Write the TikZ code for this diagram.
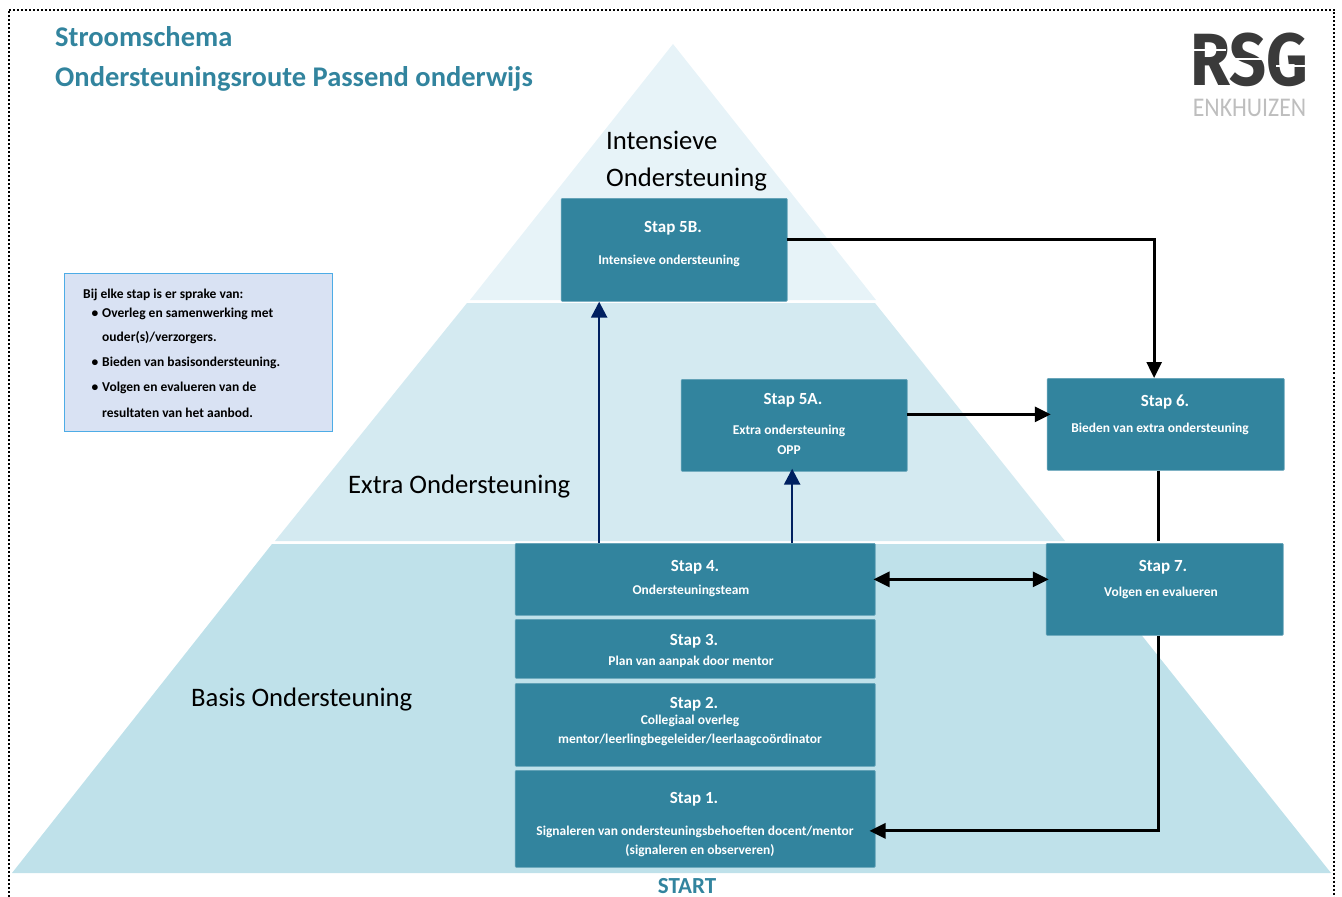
\documentclass[tikz,border=0pt]{standalone}
\usepackage{fontspec}
\setmainfont{Carlito}
\newfontfamily\logoFont{Fira Sans}
\usepackage{tikz}
\usetikzlibrary{positioning,arrows.meta}
\tikzstyle{schema} = [x = 1pt, y = -1pt]
\definecolor{stapColor}{RGB}{50,132,158}
\definecolor{stapEdgeColor}{RGB}{96,160,182}
\definecolor{topTierColor}{RGB}{231,243,248}
\definecolor{midTierColor}{RGB}{212,234,241}
\definecolor{baseTierColor}{RGB}{191,225,234}
\definecolor{legendColor}{RGB}{217,226,243}
\definecolor{legendEdgeColor}{RGB}{77,172,230}
\definecolor{navyColor}{RGB}{0,32,96}
\definecolor{logoColor}{RGB}{58,58,58}
\definecolor{logoLightColor}{RGB}{190,190,190}
\tikzstyle{stapBoxStyle} = [draw=stapEdgeColor, fill=stapColor, line width=.7pt, rounded corners=1pt, anchor=north west, inner sep=0pt]
\tikzstyle{stapTitleStyle} = [text=white, font=\fontsize{17}{17}\selectfont\bfseries, inner sep=0pt, yshift=-1.5pt]
\tikzstyle{stapTextStyle} = [text=white, font=\fontsize{13.45}{13.45}\selectfont\bfseries, inner sep=0pt, yshift=-1pt]
\tikzstyle{tierText} = [font=\fontsize{26.7}{26.7}\selectfont, anchor=west, inner sep=0pt, yshift=-2pt]
\tikzstyle{headText} = [text=stapColor, font=\fontsize{28.5}{28.5}\selectfont\bfseries, anchor=west, inner sep=0pt]
\tikzstyle{legendText} = [font=\fontsize{13.5}{13.5}\selectfont\bfseries, anchor=west, inner sep=0pt, yshift=-1pt]
\tikzstyle{blackArrow} = [draw=black, line width=2.8pt, -{Triangle[length=16pt,width=15pt]}]
\tikzstyle{navyArrow} = [draw=navyColor, line width=2.6pt, -{Triangle[length=16pt,width=16pt]}]
\tikzstyle{blackLine} = [draw=black, line width=2.8pt]
\newcommand{\stapBox}[5]{\node [stapBoxStyle, minimum width=#4-#2, minimum height=#5-#3] (#1) at (#2-.2,#3) {};}
\newcommand{\stapTitle}[4]{\node [stapTitleStyle] (#1) at (#2,#3) {#4};}
\newcommand{\stapText}[4]{\node [stapTextStyle] (#1) at (#2,#3) {#4};}
\newcommand{\legendLine}[3]{\node [legendText] (#1) at (102,#2) {#3};}
\newcommand{\legendBullet}[2]{\node [legendText, anchor=center] (#1) at (95,#2) {\textbullet};}
\begin{document}
\begin{tikzpicture}[schema]
  \useasboundingbox (0,0) rectangle (1342,897);
  \draw [line width=2pt, dash pattern=on 2pt off 2pt] (8.5,897) -- (8.5,9.5) -- (1334,9.5) -- (1334,897);

  % pyramid
  \fill [topTierColor] (673,44) -- (876,300) -- (470,300) -- cycle;
  \fill [midTierColor] (875,303) -- (1065,541) -- (275,541) -- (467,303) -- cycle;
  \fill [baseTierColor] (1069,544) -- (1331,873) -- (12,873) -- (272,544) -- cycle;

  % header
  \node [headText] (headOne) at (55,37) {Stroomschema};
  \node [headText, yshift=-2pt] (headTwo) at (55,77) {Ondersteuningsroute Passend onderwijs};
  \node [tierText] (tierTopOne) at (606,138) {Intensieve};
  \node [tierText] (tierTopTwo) at (606,178) {Ondersteuning};
  \node [tierText] (tierMid) at (348,485) {Extra Ondersteuning};
  \node [tierText] (tierBase) at (191,698) {Basis Ondersteuning};
  \node [text=stapColor, font=\fontsize{23}{23}\selectfont\bfseries, inner sep=0pt] (startText) at (687,886) {START};

  % logo
  \node [text=logoColor, font=\logoFont\fontsize{74}{74}\selectfont\bfseries, inner sep=0pt, xscale=.875] (logoText) at (1249.5,60) {RSG};
  \draw [white, line width=1.5pt] (1193,50) -- (1226,50) (1233,59) -- (1268,59) (1276,66) -- (1306,66);
  \node [text=logoLightColor, font=\fontsize{27}{27}\selectfont, inner sep=0pt, xscale=.88] (logoName) at (1249.5,107.5) {ENKHUIZEN};

  % legend
  \node [draw=legendEdgeColor, fill=legendColor, line width=1.4pt, anchor=north west, inner sep=0pt, minimum width=268pt, minimum height=158pt] (legendBox) at (63.5,273) {};
  \node [legendText] (legendHead) at (83,294) {Bij elke stap is er sprake van:};
  \legendBullet{bulletOne}{313}
  \legendLine{legendOne}{313}{Overleg en samenwerking met}
  \legendLine{legendTwo}{337}{ouder(s)/verzorgers.}
  \legendBullet{bulletTwo}{362}
  \legendLine{legendThree}{362}{Bieden van basisondersteuning.}
  \legendBullet{bulletThree}{387}
  \legendLine{legendFour}{387}{Volgen en evalueren van de}
  \legendLine{legendFive}{412}{resultaten van het aanbod.}

  % steps
  \stapBox{stapFiveB}{561}{198}{787}{301}
  \stapBox{stapFiveA}{681}{379}{907}{471}
  \stapBox{stapSix}{1047}{378}{1284}{470}
  \stapBox{stapSeven}{1046}{543}{1283}{635}
  \stapBox{stapFour}{515}{543}{875}{615}
  \stapBox{stapThree}{515}{619}{875}{678}
  \stapBox{stapTwo}{515}{683}{875}{766}
  \stapBox{stapOne}{515}{770}{875}{867}

  \stapTitle{titleFiveB}{673}{227}{Stap 5B.}
  \stapText{textFiveB}{669}{260}{Intensieve ondersteuning}
  \stapTitle{titleFiveA}{793}{399}{Stap 5A.}
  \stapText{textFiveA}{789}{430}{Extra ondersteuning}
  \stapText{textFiveAb}{789}{449}{OPP}
  \stapTitle{titleSix}{1165}{401}{Stap 6.}
  \stapText{textSix}{1160}{428}{Bieden van extra ondersteuning}
  \stapTitle{titleSeven}{1163}{566}{Stap 7.}
  \stapText{textSeven}{1161}{592}{Volgen en evalueren}
  \stapTitle{titleFour}{695}{566}{Stap 4.}
  \stapText{textFour}{691}{590}{Ondersteuningsteam}
  \stapTitle{titleThree}{694}{640}{Stap 3.}
  \stapText{textThree}{691}{661}{Plan van aanpak door mentor}
  \stapTitle{titleTwo}{694}{703}{Stap 2.}
  \stapText{textTwo}{690}{720}{Collegiaal overleg}
  \stapText{textTwoB}{690}{739}{mentor/leerlingbegeleider/leerlaagcoördinator}
  \stapTitle{titleOne}{694}{798}{Stap 1.}
  \stapText{textOne}{695}{831}{Signaleren van ondersteuningsbehoeften docent/mentor}
  \stapText{textOneB}{700}{850}{(signaleren en observeren)}

  % connectors
  \draw [navyArrow] ([xshift=-96pt]stapFour.north) -- ([xshift=-75pt]stapFiveB.south);
  \draw [navyArrow, shorten >=-3pt] ([xshift=97pt]stapFour.north) -- ([xshift=-2pt]stapFiveA.south);
  \draw [blackArrow] ([yshift=10.5pt,xshift=-1pt]stapFiveB.east) -| ([xshift=-11.5pt]stapSix.north);
  \draw [blackArrow, shorten >=-4pt] ([yshift=11pt,xshift=-1pt]stapFiveA.east) -- ([yshift=10pt]stapSix.west);
  \draw [blackArrow, {Triangle[length=16pt,width=15pt]}-{Triangle[length=16pt,width=15pt]}, shorten <=-2pt, shorten >=-3pt] (stapFour.east) -- ([yshift=10pt]stapSeven.west);
  \draw [blackLine] ([xshift=-7.5pt]stapSix.south) -- ([xshift=-6.5pt,yshift=2pt]stapSeven.north);
  \draw [blackArrow, shorten >=-6pt] ([xshift=-6.5pt]stapSeven.south) |- ([yshift=-12pt]stapOne.east);
\end{tikzpicture}
\end{document}
